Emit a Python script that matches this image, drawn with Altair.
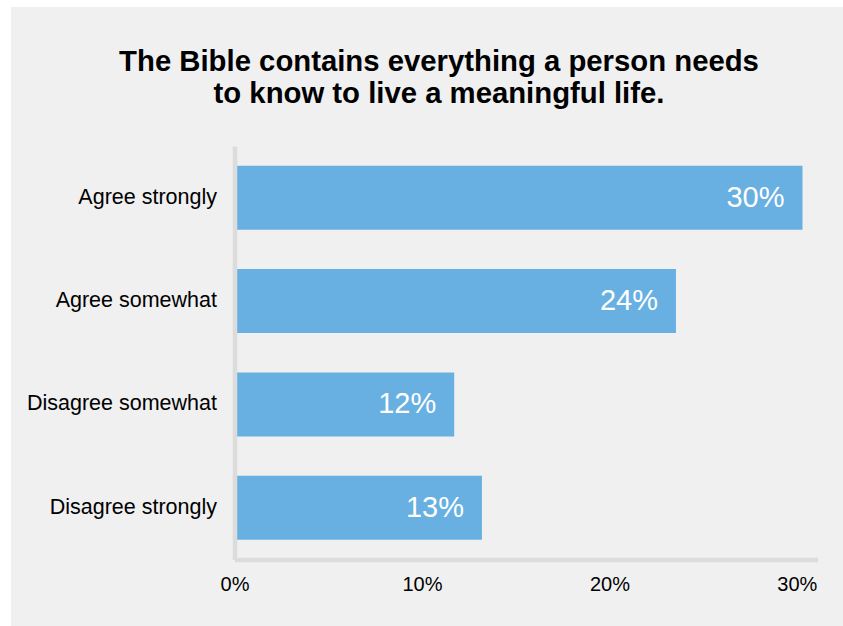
import altair as alt
import pandas as pd

categories = ["Agree strongly", "Agree somewhat", "Disagree somewhat", "Disagree strongly"]
values = [30.3, 23.55, 11.72, 13.2]
labels = ["30%", "24%", "12%", "13%"]
tick_values = [0, 10, 20, 30]
title_lines = ["The Bible contains everything a person needs", "to know to live a meaningful life."]

df = pd.DataFrame({"cat": categories, "val": values, "lab": labels})

FONT = "Liberation Sans"
BAR = "#68b0e1"
PANEL = "#f0f0f0"
AXIS = "#dcdcdc"

W, H = 583, 413.5
PL, PT = 234.5, 146

panel = alt.Chart(pd.DataFrame({"k": [0]})).mark_rect(color=PANEL).encode(
    x=alt.value(11 - PL), x2=alt.value(843 - PL),
    y=alt.value(7 - PT), y2=alt.value(626 - PT),
)

x_enc = alt.X(
    "val:Q",
    scale=alt.Scale(domain=[0, 31.1], nice=False, zero=True),
    axis=alt.Axis(
        values=tick_values, format=".0f", labelExpr="datum.value + '%'",
        grid=False, ticks=False, tickSize=0, domainColor=AXIS, domainWidth=4.5,
        labelFont=FONT, labelFontSize=20, labelColor="#000000", labelPadding=15,
        labelAlign="center", zindex=1, title=None,
    ),
)
y_enc = alt.Y(
    "cat:N", sort=categories,
    scale=alt.Scale(paddingInner=0.38, paddingOuter=0.19),
    axis=alt.Axis(
        grid=False, ticks=False, tickSize=0, domainColor=AXIS, domainWidth=4.5,
        labelFont=FONT, labelFontSize=21.5, labelColor="#000000", labelPadding=18,
        labelLimit=400, zindex=1, title=None,
    ),
)

bars = alt.Chart(df).mark_bar(color=BAR).encode(x=x_enc, y=y_enc)
text = alt.Chart(df).mark_text(
    align="right", baseline="middle", dx=-18, color="white", font=FONT, fontSize=29
).encode(x="val:Q", y=alt.Y("cat:N", sort=categories), text="lab:N")

chart = alt.layer(panel, bars, text).properties(
    width=W, height=H,
    title=alt.TitleParams(
        text=title_lines, font=FONT, fontSize=29.3, fontWeight="bold", color="#000000",
        anchor="middle", dx=-87, offset=0, dy=102, lineHeight=31.5,
    ),
    autosize=alt.AutoSizeParams(type="none"),
    padding={"left": PL, "top": PT, "right": 843 - PL - W, "bottom": 626 - PT - H},
    background="white",
).configure_view(stroke=None)

chart.save("out.html", embed_options={"renderer": "svg", "actions": False})
